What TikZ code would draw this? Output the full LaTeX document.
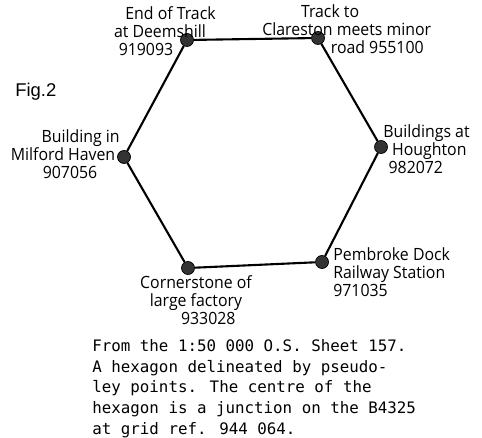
\documentclass[tikz,border=0pt]{standalone}
\usepackage{fontspec}
\setmainfont{Open Sans}
\newfontfamily\handfont[FakeStretch=0.94]{Open Sans}
\newfontfamily\figfont{Liberation Sans}
\newfontfamily\typefont{DejaVu Sans Mono}
\usetikzlibrary{positioning}

\begin{document}
\begin{tikzpicture}[
    x=0.02cm, y=-0.02cm,
    corner/.style={circle, draw=black, fill=black!80, minimum size=0.26cm, inner sep=0pt},
    side/.style={line width=1.2pt},
    place/.style={font=\handfont\fontsize{9.6}{10.2}\selectfont, inner sep=0pt, align=center},
    note/.style={font=\typefont\fontsize{9}{11.8}\selectfont, inner sep=0pt, align=left}
]
\useasboundingbox (0,0) rectangle (482,438);

% Corner points of the hexagon
\node[corner] (deems) at (187, 40) {};
\node[corner] (clare) at (318, 38) {};
\node[corner] (hough) at (381, 147) {};
\node[corner] (pemb) at (322, 262) {};
\node[corner] (fact) at (188, 268) {};
\node[corner] (milf) at (124, 157) {};

% Sides
\draw[side] (deems) -- (clare) -- (hough) -- (pemb) -- (fact) -- (milf) -- (deems);

% Labels at the corners
\node[place] (deemsl) at (160, 31) {\hspace*{12pt}End of Track\\at Deemshill\\919093\hspace*{16pt}};
\node[place, align=left, anchor=west] (clarel) at (262, 29) {\hspace*{22pt}Track to\\Clareston meets minor\\\hspace*{39pt}road 955100};
\node[place, align=left, anchor=west] (houghl) at (383, 149) {Buildings at\\\hspace*{5pt}Houghton\\\hspace*{3pt}982072};
\node[place, align=left, anchor=west] (pembl) at (333, 272) {Pembroke Dock\\Railway Station\\971035};
\node[place] (factl) at (196, 300) {Cornerstone of\\large factory\\\hspace*{14pt}933028};
\node[place] (milfl) at (63, 154) {\hspace*{20pt}Building in\\Milford Haven\\\hspace*{8pt}907056};

\node[font=\figfont\fontsize{10.5}{12}\selectfont, inner sep=0pt, anchor=west] (fig) at (15, 92) {Fig.2};

% Caption
\node[note, anchor=north west] (cap) at (92, 339) {From the 1:50 000 O.S. Sheet 157.\\A hexagon delineated by pseudo-\\ley points. The centre of the\\hexagon is a junction on the B4325\\at grid ref. 944 064.};

\end{tikzpicture}
\end{document}
